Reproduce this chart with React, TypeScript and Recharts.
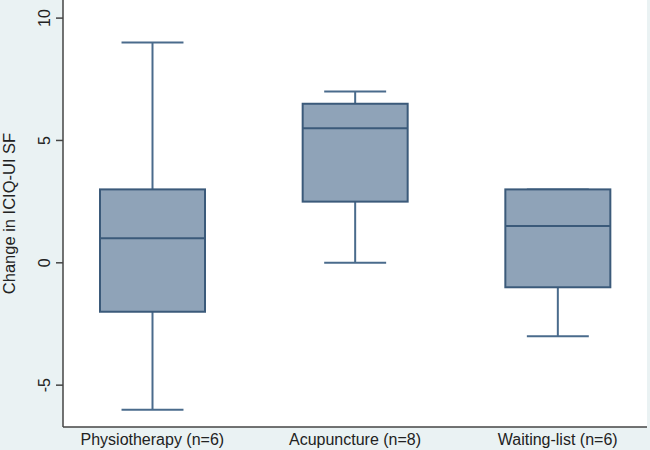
import React from "react";
import { ComposedChart, Bar, XAxis, YAxis, CartesianGrid } from "recharts";

const groups = ["Physiotherapy (n=6)", "Acupuncture (n=8)", "Waiting-list (n=6)"];
const mins = [-6, 0, -3];
const q1s = [-2, 2.5, -1];
const medians = [1, 5.5, 1.5];
const q3s = [3, 6.5, 3];
const maxs = [9, 7, 3];
const yTicks = [-5, 0, 5, 10];

const BG = "#eaf2f3";
const FILL = "#8fa3b8";
const EDGE = "#3b5a7a";
const WHISK = "#4a6b8c";
const FONT = "'Liberation Sans', Arial, sans-serif";

const data = groups.map((name, i) => ({
  name,
  min: mins[i],
  q1: q1s[i],
  median: medians[i],
  q3: q3s[i],
  max: maxs[i],
}));

// draws whiskers + box inside the [min, max] range bar
const BoxShape = (props: any) => {
  const { x, y, width, height, payload } = props;
  const { min, q1, median, q3, max } = payload;
  const span = max - min;
  const py = (v: number) => (span === 0 ? y : y + (height * (max - v)) / span);
  const cx = x + width / 2;
  const capW = width * 0.59;
  return (
    <g>
      <line x1={cx} x2={cx} y1={py(max)} y2={py(q3)} stroke={WHISK} strokeWidth={2} />
      <line x1={cx} x2={cx} y1={py(q1)} y2={py(min)} stroke={WHISK} strokeWidth={2} />
      <line x1={cx - capW / 2} x2={cx + capW / 2} y1={py(max)} y2={py(max)} stroke={WHISK} strokeWidth={2} />
      <line x1={cx - capW / 2} x2={cx + capW / 2} y1={py(min)} y2={py(min)} stroke={WHISK} strokeWidth={2} />
      <rect x={x} y={py(q3)} width={width} height={py(q1) - py(q3)} fill={FILL} stroke={EDGE} strokeWidth={2} />
      <line x1={x} x2={x + width} y1={py(median)} y2={py(median)} stroke={EDGE} strokeWidth={2} />
    </g>
  );
};

const YTick = (props: any) => {
  const { x, y, payload } = props;
  return (
    <text
      x={x}
      y={y}
      transform={`rotate(-90, ${x}, ${y})`}
      textAnchor="middle"
      dy={-4}
      fill="#222"
      fontSize={16}
      fontFamily={FONT}
    >
      {payload.value}
    </text>
  );
};

export default function App() {
  return (
    <div style={{ width: 650, height: 450, background: BG }}>
      <style>{`body{margin:0}`}</style>
      <ComposedChart
        width={650}
        height={450}
        data={data}
        margin={{ top: 0, right: 3, bottom: 0, left: 0 }}
        barSize={105}
      >
        <rect x={63} y={0} width={584} height={427} fill="#ffffff" />
        <CartesianGrid horizontal vertical={false} stroke={BG} strokeWidth={1.5} />
        <XAxis
          dataKey="name"
          height={23}
          padding={{ left: -12, right: -12 }}
          tickLine={false}
          axisLine={{ stroke: "#444", strokeWidth: 1.5 }}
          tick={{ fill: "#222", fontSize: 16, fontFamily: FONT }}
          tickMargin={1}
          interval={0}
        />
        <YAxis
          type="number"
          domain={[-6.71, 10.74]}
          ticks={yTicks}
          allowDataOverflow
          width={63}
          axisLine={{ stroke: "#444", strokeWidth: 1.5 }}
          tickLine={{ stroke: "#444", strokeWidth: 1.5 }}
          tickSize={7}
          tick={<YTick />}
          label={{
            value: "Change in ICIQ-UI SF",
            angle: -90,
            position: "insideLeft",
            offset: 0,
            dx: 9,
            style: { fill: "#222", fontSize: 16.5, fontFamily: FONT, textAnchor: "middle" },
          }}
        />
        <Bar
          dataKey={(d: any) => [d.min, d.max]}
          shape={<BoxShape />}
          isAnimationActive={false}
        />
      </ComposedChart>
    </div>
  );
}
